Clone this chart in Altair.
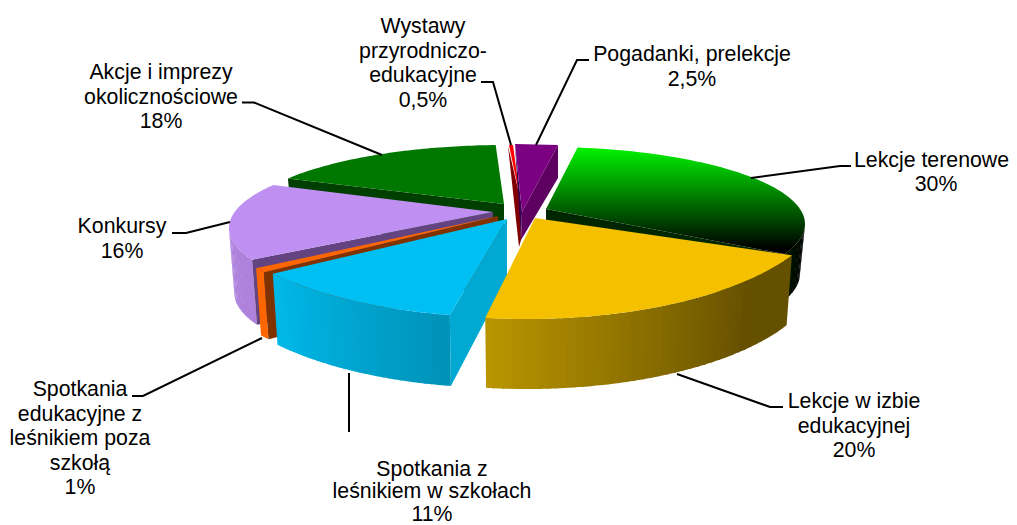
import math
import altair as alt
import pandas as pd

W, H = 1001, 517
SHARES = ["30%", "20%", "11%", "1%", "16%", "18%", "0,5%", "2,5%"]

# slice angles (degrees clockwise from 12 o'clock)
T0 = {"green": 7, "yellow": 118, "blue": 190.6, "orange": 231, "lilac": 246, "dgreen": 305.6}
T1 = {"green": 113, "yellow": 188, "blue": 230.7, "orange": 233.4, "lilac": 303.4, "dgreen": 358}
# layout of the exploded slices
APEX = {"green": (546, 209), "yellow": (535, 218), "blue": (507, 219), "orange": (498, 216),
        "lilac": (493, 212), "dgreen": (504, 204)}
ELL = {"green": (546, 224, 259, 77), "yellow": (527, 199, 300, 120), "blue": (505, 199, 300, 118),
       "orange": (497, 198, 300, 118), "lilac": (496, 228, 267, 78), "dgreen": (505, 225, 267, 80)}
THICK = {"green": 50, "yellow": 70, "blue": 71, "orange": 67, "lilac": 65, "dgreen": 45}
TOP = {"green": "#00a000", "yellow": "#f4c000", "blue": "#00bff3", "orange": "#ff6600",
       "lilac": "#bf8ff2", "dgreen": "#007800"}
FACE = {"green": "#002600", "blue": "#00a8d2", "orange": "#803300", "lilac": "#644480", "dgreen": "#003f00"}
WALL = {"green": ("#000000", "#001400"), "yellow": ("#b89400", "#655000"),
        "blue": ("#0092b8", "#00b8e8"), "orange": ("#ff6600", "#ff6600"), "lilac": ("#ae82dc", "#ae82dc")}
SHRINK = 0.98


def arc(k, t):
    ex, ey, rx, ry = ELL[k]
    r = math.radians(t)
    return ex + rx * math.sin(r), ey - ry * math.cos(r)


def low(k, p):
    ex = ELL[k][0]
    return ex + (p[0] - ex) * SHRINK, p[1] + THICK[k]


def mix(a, b, f):
    ca = [int(a[i:i + 2], 16) for i in (1, 3, 5)]
    cb = [int(b[i:i + 2], 16) for i in (1, 3, 5)]
    return "#%02x%02x%02x" % tuple(round(x + (y - x) * f) for x, y in zip(ca, cb))


pid = [0]


def poly(pts, fill, bucket):
    pid[0] += 1
    for i, (x, y) in enumerate(list(pts) + [pts[0]]):
        bucket.append(dict(p=pid[0], i=i, x=x, y=y, fill=fill))


def top(k):
    n = 60
    t0, t1 = T0[k], T1[k]
    return [APEX[k]] + [arc(k, t0 + (t1 - t0) * j / n) for j in range(n + 1)]


def face(k, bucket):
    e = arc(k, T0[k])
    a = APEX[k]
    poly([a, e, low(k, e), (a[0], a[1] + THICK[k])], FACE[k], bucket)


def wall(k, bucket, n=28):
    t0, t1 = max(T0[k], 90), min(T1[k], 270)
    c0, c1 = WALL[k]
    for j in range(n):
        a = t0 + (t1 - t0) * j / n
        b = min(t0 + (t1 - t0) * (j + 1.25) / n, t1)
        u = [arc(k, a + (b - a) * q / 4) for q in range(5)]
        poly(u + [low(k, p) for p in reversed(u)], mix(c0, c1, j / max(n - 1, 1)), bucket)


def yellow_wall(bucket, n=40):
    k = "yellow"
    t0, t1 = T0[k], T1[k]
    for j in range(n):
        a = t0 + (t1 - t0) * j / n
        b = min(t0 + (t1 - t0) * (j + 1.25) / n, t1)
        u = [arc(k, a + (b - a) * q / 4) for q in range(5)]
        f = j / (n - 1)
        col = WALL[k][1] if f < 0.2 else mix(WALL[k][1], WALL[k][0], (f - 0.2) / 0.8)
        poly(u + [low(k, p) for p in reversed(u)], col, bucket)


back, front = [], []
face("dgreen", back)
poly(top("dgreen"), TOP["dgreen"], back)
# wystawy (red) and pogadanki (purple) slices
poly([(508, 146), (519, 247), (521, 240), (520, 198)], "#800000", back)
poly([(509, 145), (513, 145), (520, 198)], "#ff0000", back)
poly([(515, 145), (522, 212), (521, 240)], "#3c0050", back)
poly([(558, 145), (558, 178), (533, 220), (521, 240), (522, 212)], "#5e0060", back)
poly([(515, 144), (558, 145), (522, 212)], "#7c0082", back)
# bright green slice sides
poly([APEX["green"], arc("green", T1["green"]), low("green", arc("green", T1["green"])),
      (546, 259)], FACE["green"], back)
wall("green", back, 10)
green_top = []
poly(top("green"), "g", green_top)
wall("lilac", front, 14)
face("lilac", front)
poly(top("lilac"), TOP["lilac"], front)
wall("orange", front, 3)
face("orange", front)
poly(top("orange"), TOP["orange"], front)
wall("blue", front, 32)
bl = arc("blue", T0["blue"])
poly([APEX["blue"], bl, low("blue", bl), (507, 279)], FACE["blue"], front)
poly(top("blue"), TOP["blue"], front)
yellow_wall(front)
poly(top("yellow"), TOP["yellow"], front)

xs = alt.Scale(domain=[8, 1009], range=[0, W])
ys = alt.Scale(domain=[8, 525], range=[0, H])
X = alt.X("x:Q", scale=xs, axis=None)
Y = alt.Y("y:Q", scale=ys, axis=None)


def shapes(bucket):
    return alt.Chart(pd.DataFrame(bucket)).mark_line(strokeOpacity=0, strokeWidth=0).encode(
        x=X, y=Y, order=alt.Order("i:Q"), detail="p:N", fill=alt.Fill("fill:N", scale=None))


green_layer = alt.Chart(pd.DataFrame(green_top)).mark_line(
    strokeOpacity=0, strokeWidth=0,
    fill=alt.Gradient(gradient="linear", x1=0, y1=0, x2=0, y2=0.95,
                      stops=[alt.GradientStop(offset=0, color="#00f200"),
                             alt.GradientStop(offset=1, color="#000000")])
).encode(x=X, y=Y, order=alt.Order("i:Q"), detail="p:N")

LEADERS = [[(751, 178), (840, 166), (851, 166)], [(677, 374), (770, 407), (783, 407)],
           [(349, 373), (349, 432)], [(262, 338), (143, 396), (132, 396)],
           [(230, 222), (186, 233), (172, 233)], [(382, 155), (254, 102.5), (242, 102.5)],
           [(511, 145), (493, 82), (481, 82)], [(536, 145), (577, 60), (589, 60)]]
lead = [dict(l=n, i=i, x=p[0], y=p[1]) for n, ln in enumerate(LEADERS) for i, p in enumerate(ln)]
leaders = alt.Chart(pd.DataFrame(lead)).mark_line(color="#000000", strokeWidth=2).encode(
    x=X, y=Y, order=alt.Order("i:Q"), detail="l:N")

LABEL_LINES = [["Lekcje terenowe", SHARES[0]], ["Lekcje w izbie", "edukacyjnej", SHARES[1]],
               ["Spotkania z", "leśnikiem w szkołach", SHARES[2]],
               ["Spotkania", "edukacyjne z", "leśnikiem poza", "szkołą", SHARES[3]],
               ["Konkursy", SHARES[4]], ["Akcje i imprezy", "okolicznościowe", SHARES[5]],
               ["Wystawy", "przyrodniczo-", "edukacyjne", SHARES[6]],
               ["Pogadanki, prelekcje", SHARES[7]]]
LABEL_X = [936, 854, 432, 80, 122, 161, 423, 692]
LABEL_BASE = [167, 408, 475.5, 396, 233, 79, 33, 61]
LABEL_DY = [24, 24.5, 22.5, 24.5, 25, 24.5, 24.5, 24.5]
txt = [dict(x=LABEL_X[n] - (4.5 if s == "Lekcje terenowe" else 0), y=LABEL_BASE[n] + LABEL_DY[n] * i, t=s)
       for n, ls in enumerate(LABEL_LINES) for i, s in enumerate(ls)]
texts = alt.Chart(pd.DataFrame(txt)).mark_text(
    font="Liberation Sans", fontSize=21.3, color="#000000", align="center", baseline="alphabetic"
).encode(x=X, y=Y, text="t:N")

chart = alt.layer(shapes(back), green_layer, shapes(front), leaders, texts).properties(
    width=W, height=H, padding=0, autosize=alt.AutoSizeParams(type="none"),
    view=alt.ViewConfig(stroke=None)
).configure(background="#ffffff")
chart.save("out.html", embed_options={"renderer": "svg", "actions": False})
